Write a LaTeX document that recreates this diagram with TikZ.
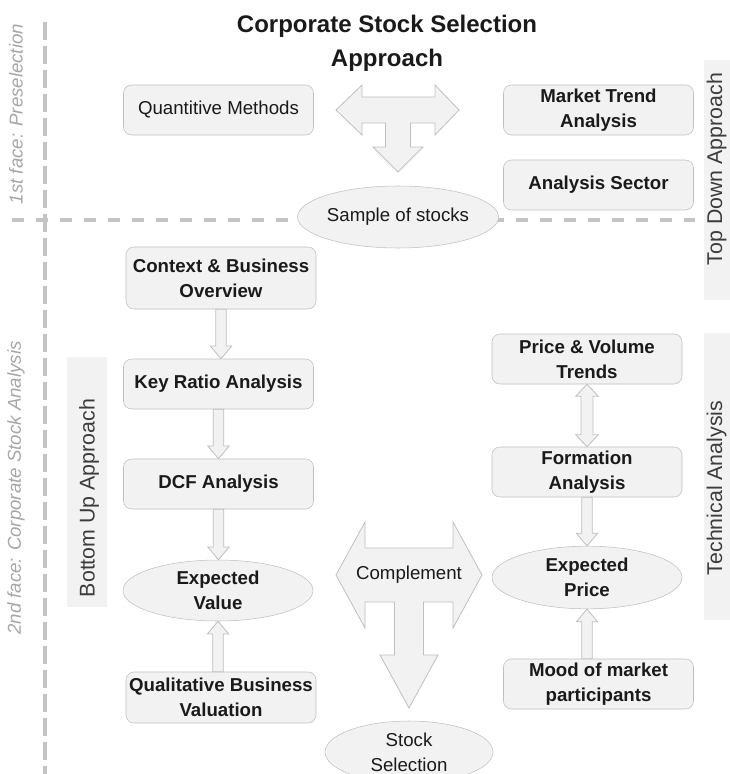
\documentclass[tikz,border=0pt]{standalone}
\usepackage{fontspec}
\setmainfont{Liberation Sans}
\usepackage{tikz}
\usetikzlibrary{shapes.geometric,calc}
\definecolor{edge}{HTML}{BFBFBF}
\definecolor{pale}{HTML}{F2F2F2}
\definecolor{rule}{HTML}{C4C4C4}
\definecolor{faint}{HTML}{A6A6A6}
\definecolor{ink}{HTML}{1A1A1A}
\newcommand\bodyfont{\fontsize{14}{19}\selectfont}
\newcommand\titlefont{\fontsize{18}{25.5}\selectfont\bfseries}
\newcommand\bandfont{\fontsize{16}{19}\selectfont}
% block arrows between two nodes
\newcommand\flowdown[2]{\draw[blk] let \p1=(#1.south), \p2=(#2.north) in
 (\x1-4pt,\y1) -- (\x1-4pt,\y2+9.5pt) -- (\x1-8pt,\y2+9.5pt) -- (\x1,\y2)
 -- (\x1+8pt,\y2+9.5pt) -- (\x1+4pt,\y2+9.5pt) -- (\x1+4pt,\y1) -- cycle;}
\newcommand\flowup[2]{\draw[blk] let \p1=(#1.north), \p2=(#2.south) in
 (\x2-4pt,\y1) -- (\x2-4pt,\y2-9.5pt) -- (\x2-8pt,\y2-9.5pt) -- (\x2,\y2)
 -- (\x2+8pt,\y2-9.5pt) -- (\x2+4pt,\y2-9.5pt) -- (\x2+4pt,\y1) -- cycle;}
\newcommand\flowboth[2]{\draw[blk] let \p1=(#1.south), \p2=(#2.north) in
 (\x1,\y1) -- (\x1+8.5pt,\y1-9pt) -- (\x1+4.5pt,\y1-9pt) -- (\x1+4.5pt,\y2+9pt)
 -- (\x1+8.5pt,\y2+9pt) -- (\x1,\y2) -- (\x1-8.5pt,\y2+9pt) -- (\x1-4.5pt,\y2+9pt)
 -- (\x1-4.5pt,\y1-9pt) -- (\x1-8.5pt,\y1-9pt) -- cycle;}

\begin{document}
\begin{tikzpicture}[x=0.75pt,y=-0.75pt,
 box/.style={draw=edge,fill=pale,rounded corners=6pt,align=center,text=ink,
 font=\bodyfont\bfseries,minimum width=142.5pt,minimum height=37.5pt,inner sep=0pt},
 oval/.style={ellipse,draw=edge,fill=pale,align=center,text=ink,
 font=\bodyfont\bfseries,minimum width=142.5pt,minimum height=46pt,inner sep=0pt},
 blk/.style={draw=edge,fill=pale,line width=0.6pt},
 side/.style={rotate=90,font=\bodyfont\itshape,text=faint,inner sep=0pt},
 bandtext/.style={rotate=90,font=\bandfont,text=ink!85,inner sep=0pt},
 sep/.style={draw=rule,line width=3pt}]
\useasboundingbox (0,0) rectangle (729,774);

% the two faces
\draw[sep,dash pattern=on 13.5pt off 4.5pt] (45,22) -- (45,774);
\draw[sep,dash pattern=on 9pt off 9pt] (12,220) -- (695,220);
\node[side] (pre) at (16,114) {1st face: Preselection};
\node[side] (post) at (16,488) {2nd face: Corporate Stock Analysis};

% approach bands
\fill[pale] (704,60) rectangle (735,300);
\fill[pale] (704,333) rectangle (735,620);
\fill[pale] (67,357) rectangle (107,607);
\node[bandtext] (topdown) at (716.5,169) {Top Down Approach};
\node[bandtext] (technical) at (716.5,488) {Technical Analysis};
\node[bandtext] (bottomup) at (89,498) {Bottom Up Approach};

\node[font=\titlefont,align=center,text=ink] (title) at (387,43) {Corporate Stock Selection\\Approach};

% preselection
\node[box,font=\bodyfont] (quant) at (218.5,110) {Quantitive Methods};
\node[box] (trend) at (598.5,110) {Market Trend\\Analysis};
\node[box] (sector) at (598.5,185) {Analysis Sector};
\node[oval,font=\bodyfont,minimum width=144pt,minimum height=46.5pt] (sample) at (398,217) {Sample of stocks};
\draw[blk] (336,110) -- (362,85) -- (362,97) -- (435,97) -- (435,85) -- (459,110)
 -- (435,135) -- (435,123) -- (410.5,123) -- (410.5,147) -- (423,147) -- (398,172)
 -- (373,147) -- (385.5,147) -- (385.5,123) -- (362,123) -- (362,135) -- cycle;

% bottom up
\node[box,minimum height=46.5pt] (context) at (221,278) {Context \& Business\\Overview};
\node[box] (ratio) at (218.5,384) {Key Ratio Analysis};
\node[box] (dcf) at (218.5,484) {DCF Analysis};
\node[oval,minimum height=45.75pt] (value) at (218,590.5) {Expected\\Value};
\node[box,minimum height=38.25pt] (quali) at (221,697.5) {Qualitative Business\\Valuation};
\flowdown{context}{ratio}
\flowdown{ratio}{dcf}
\flowdown{dcf}{value}
\flowup{quali}{value}

% technical
\node[box] (volume) at (587,359) {Price \& Volume\\Trends};
\node[box] (formation) at (587,472) {Formation\\Analysis};
\node[oval,minimum height=47pt] (price) at (587,577.5) {Expected\\Price};
\node[box] (mood) at (598.5,684) {Mood of market\\participants};
\flowboth{volume}{formation}
\flowdown{formation}{price}
\flowup{mood}{price}

% both sides meet
\draw[blk] (336,575) -- (365,522) -- (365,548) -- (453,548) -- (453,522) -- (482,575)
 -- (453,628) -- (453,602) -- (423.5,602) -- (423.5,655) -- (438,655) -- (409,708)
 -- (380,655) -- (394.5,655) -- (394.5,602) -- (365,602) -- (365,628) -- cycle;
\node[font=\bodyfont,text=ink] (compl) at (409,575) {Complement};
\node[oval,font=\bodyfont,minimum width=126pt,minimum height=46.5pt] (select) at (409,752) {Stock\\Selection};
\end{tikzpicture}
\end{document}
